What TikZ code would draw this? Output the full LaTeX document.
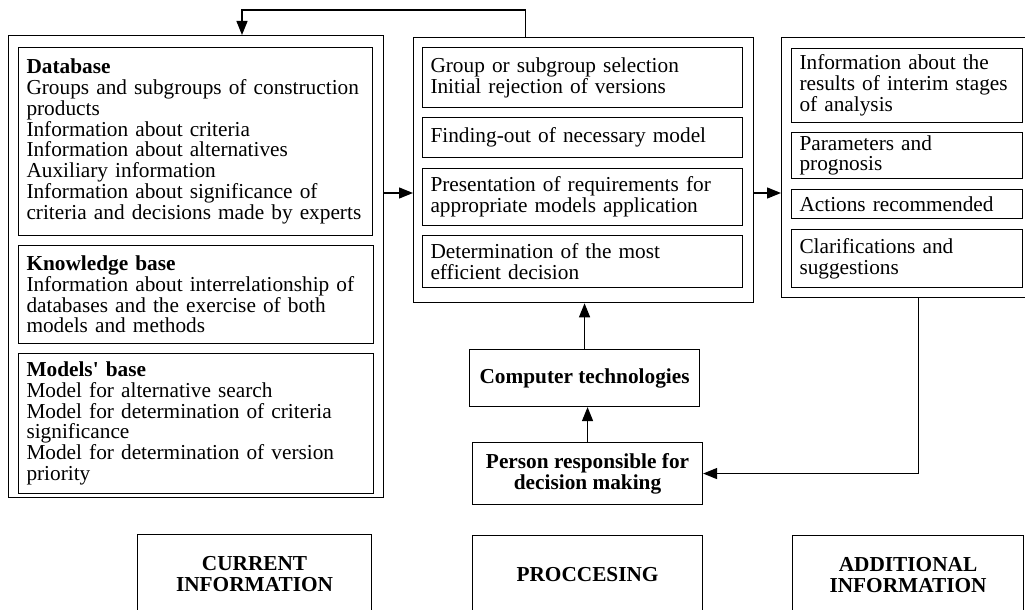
\documentclass[tikz,border=0pt]{standalone}
\usepackage{fontspec}
\setmainfont{Liberation Serif}
\usetikzlibrary{arrows.meta}
\hyphenpenalty=10000

\tikzset{
  frame/.style={draw, line width=1.3pt, anchor=north west, inner sep=0pt},
  cell/.style={draw, line width=1pt, anchor=north west, align=left, inner xsep=8pt, inner ysep=1pt},
  tag/.style={draw, line width=1.1pt, anchor=north west, align=center, font=\fontsize{21.3}{21}\selectfont\bfseries, inner sep=0pt},
  link/.style={line width=1.3pt, -{Triangle[length=14pt,width=11pt]}}
}

\begin{document}
\begin{tikzpicture}[x=1pt, y=-1pt, font=\fontsize{21.3}{20.8}\selectfont]
\useasboundingbox (0,0) rectangle (1025,610);

% outer frames
\node[frame, minimum width=375pt, minimum height=462pt] (curframe) at (8,35) {};
\node[frame, minimum width=340pt, minimum height=265pt] (procframe) at (413,37) {};
\node[frame, minimum width=247pt, minimum height=260pt] (addframe) at (781,37) {};

% current information
\node[cell, text width=338pt, minimum height=188pt] (db) at (18,47) {\textbf{Database}\\
  Groups and subgroups of construction\\ products\\ Information about criteria\\
  Information about alternatives\\ Auxiliary information\\
  Information about significance of\\ criteria and decisions made by experts};
\node[cell, text width=339pt, minimum height=98pt] (kb) at (18,245) {\textbf{Knowledge base}\\
  Information about interrelationship of\\ databases and the exercise of both\\ models and methods};
\node[cell, text width=339pt, minimum height=140pt] (mb) at (18,353) {\textbf{Models\textquotesingle\ base}\\
  Model for alternative search\\ Model for determination of criteria\\ significance\\
  Model for determination of version\\ priority};

% processing
\node[cell, text width=304pt, minimum height=60pt] (sel) at (422,47) {Group or subgroup selection\\ Initial rejection of versions};
\node[cell, text width=304pt, minimum height=40pt] (find) at (422,117) {Finding-out of necessary model};
\node[cell, text width=304pt, minimum height=57pt] (req) at (422,168) {Presentation of requirements for\\ appropriate models application};
\node[cell, text width=304pt, minimum height=52pt] (eff) at (422,235) {Determination of the most\\ efficient decision};
\node[tag, minimum width=230pt, minimum height=57pt] (comp) at (469,349) {Computer technologies};
\node[tag, minimum width=230pt, minimum height=62pt] (pers) at (472,442) {Person responsible for\\ decision making};

% additional information
\node[cell, text width=215pt, minimum height=74pt] (res) at (791,48) {Information about the\\ results of interim stages\\ of analysis};
\node[cell, text width=215pt, minimum height=46pt] (par) at (791,132) {Parameters and\\ prognosis};
\node[cell, text width=215pt, minimum height=29pt] (act) at (791,189) {Actions recommended};
\node[cell, text width=215pt, minimum height=58pt] (clar) at (791,229) {Clarifications and\\ suggestions};

% column titles
\node[tag, minimum width=234pt, minimum height=78pt] (curtag) at (137,534) {CURRENT\\ INFORMATION};
\node[tag, minimum width=230pt, minimum height=78pt] (proctag) at (472,535) {PROCCESING};
\node[tag, minimum width=231pt, minimum height=78pt] (addtag) at (792,535) {ADDITIONAL\\ INFORMATION};

% connectors
\coordinate (loop) at (242,10);
\coordinate (row) at (0,193);
\draw[link] ([xshift=-58pt]procframe.north) |- (loop) -- (loop |- curframe.north);
\draw[link] (curframe.east |- row) -- (procframe.west |- row);
\draw[link] (procframe.east |- row) -- (addframe.west |- row);
\draw[link] (comp.north) -- (comp.north |- procframe.south);
\draw[link] (pers.north) -- (pers.north |- comp.south);
\draw[link] ([xshift=13.5pt]addframe.south) |- (pers.east);
\end{tikzpicture}
\end{document}
